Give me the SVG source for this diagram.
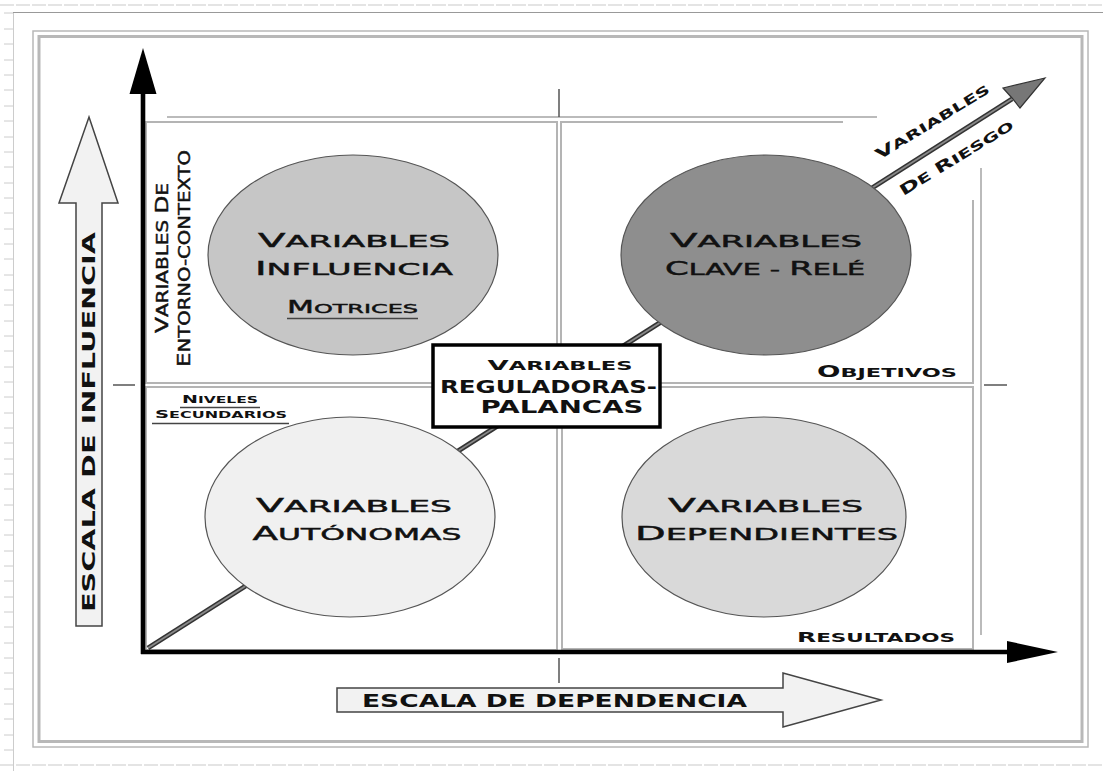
<svg xmlns="http://www.w3.org/2000/svg" width="1103" height="771" viewBox="0 0 1103 771">
<style>
.t{font-family:"DejaVu Sans","Liberation Sans",sans-serif;fill:#111;text-anchor:middle}
.b{font-weight:bold}
.m{stroke:#111;stroke-width:0.45}
.frame{fill:none;stroke:#b8b8b8}
.box{fill:none;stroke:#b4b4b4;stroke-width:2}
.tick{stroke:#555;stroke-width:1.5}
.ell{stroke:#555;stroke-width:1.2}
.ul{stroke:#444;stroke-width:1.3}
.big{fill:#f2f2f2;stroke:#444;stroke-width:1.5}
</style>
<rect width="1103" height="771" fill="#fff"/>
<g id="page">
<line x1="0" y1="5" x2="1103" y2="5" stroke="#dcdcdc" stroke-width="1.5" stroke-dasharray="14,2"/>
<line x1="0" y1="765" x2="1103" y2="765" stroke="#dcdcdc" stroke-width="1.5" stroke-dasharray="14,2"/>
<line x1="13" y1="12.5" x2="1103" y2="12.5" stroke="#999" stroke-width="1"/>
<line x1="13.5" y1="13" x2="13.5" y2="771" stroke="#ccc" stroke-width="1"/>
<path d="M4 13h9M4 29h9M4 44h9M4 60h9M4 75h9M4 90h9M4 106h9M4 121h9M4 137h9M4 152h9M4 167h9M4 183h9M4 198h9M4 213h9M4 229h9M4 244h9M4 259h9M4 275h9M4 290h9M4 305h9M4 321h9M4 336h9M4 351h9M4 367h9M4 382h9M4 397h9M4 413h9M4 428h9M4 443h9M4 459h9M4 474h9M4 489h9M4 505h9M4 520h9M4 535h9M4 551h9M4 566h9M4 581h9M4 597h9M4 612h9M4 627h9M4 643h9M4 658h9M4 673h9M4 689h9M4 704h9M4 719h9M4 735h9M4 750h9" stroke="#ccc" stroke-width="1"/>
<rect class="frame" x="33" y="31" width="1055" height="716" stroke-width="1.5"/>
<rect class="frame" x="39" y="36.5" width="1043" height="705" stroke-width="3" stroke="#c4c4c4"/>
</g>
<g id="quadrants">
<line x1="167" y1="117" x2="877" y2="117" stroke="#bbb" stroke-width="2"/>
<line x1="981" y1="168" x2="981" y2="635" stroke="#bbb" stroke-width="2"/>
<rect class="box" x="146" y="122" width="411" height="261"/>
<path class="box" d="M843 122H561V383H973V200"/>
<rect class="box" x="146" y="387" width="411" height="263"/>
<rect class="box" x="562" y="387" width="411" height="262"/>
<line class="tick" x1="559" y1="89" x2="559" y2="117"/>
<line class="tick" x1="559" y1="658" x2="559" y2="683"/>
<line class="tick" x1="113" y1="385" x2="135" y2="385"/>
<line class="tick" x1="984" y1="385" x2="1007" y2="385"/>
</g>
<g id="connectors">
<line x1="148" y1="648" x2="1012" y2="99" stroke="#333" stroke-width="5"/>
<line x1="148" y1="648" x2="1012" y2="99" stroke="#888" stroke-width="1.8"/>
<polygon points="1045,78 1003,88 1012,98 1020,108" fill="#777" stroke="#333" stroke-width="1.2"/>
<line x1="143" y1="90" x2="143" y2="654" stroke="#000" stroke-width="4.6"/>
<polygon points="143,48 129.5,94 156.5,94" fill="#000"/>
<line x1="141" y1="652" x2="1010" y2="652" stroke="#000" stroke-width="4.4"/>
<polygon points="1058,652 1007,641 1007,663" fill="#000"/>
</g>
<g id="escala-influencia">
<polygon class="big" points="89,117 118,203 102,203 102,626 76,626 76,203 59,203"/>
<text class="t b" transform="translate(95,422) rotate(-90)" font-size="17" textLength="380" lengthAdjust="spacingAndGlyphs">ESCALA DE INFLUENCIA</text>
</g>
<g id="escala-dependencia">
<polygon class="big" points="337,688 783,688 783,673 881,700 783,727 783,712 337,712"/>
<text class="t b" x="554.5" y="707" font-size="17" textLength="385" lengthAdjust="spacingAndGlyphs">ESCALA DE DEPENDENCIA</text>
</g>
<g id="node-influencia">
<ellipse class="ell" cx="353" cy="255" rx="145" ry="100" fill="#c6c6c6"/>
<text class="t m" x="354" y="247" font-size="16" textLength="192" lengthAdjust="spacingAndGlyphs"><tspan font-size="19">V</tspan>ARIABLES</text>
<text class="t m" x="354" y="275" font-size="16" textLength="198" lengthAdjust="spacingAndGlyphs"><tspan font-size="19">I</tspan>NFLUENCIA</text>
<text class="t m" x="352.5" y="313" font-size="13" textLength="131" lengthAdjust="spacingAndGlyphs"><tspan font-size="17">M</tspan>OTRICES</text>
<line class="ul" x1="287" y1="318.5" x2="418" y2="318.5"/>
</g>
<g id="node-clave">
<ellipse class="ell" cx="766" cy="255" rx="145" ry="100" fill="#8e8e8e"/>
<text class="t m" x="766" y="247" font-size="16" textLength="192" lengthAdjust="spacingAndGlyphs"><tspan font-size="19">V</tspan>ARIABLES</text>
<text class="t m" x="765" y="275" font-size="16" textLength="200" lengthAdjust="spacingAndGlyphs"><tspan font-size="19">C</tspan>LAVE - <tspan font-size="19">R</tspan>ELÉ</text>
</g>
<g id="node-autonomas">
<ellipse class="ell" cx="350" cy="517" rx="145" ry="100" fill="#f0f0f0"/>
<text class="t m" x="354" y="512" font-size="16" textLength="196" lengthAdjust="spacingAndGlyphs"><tspan font-size="19">V</tspan>ARIABLES</text>
<text class="t m" x="357" y="540" font-size="16" textLength="209" lengthAdjust="spacingAndGlyphs"><tspan font-size="19">A</tspan>UTÓNOMAS</text>
</g>
<g id="node-dependientes">
<ellipse class="ell" cx="764" cy="517" rx="142" ry="100" fill="#d9d9d9"/>
<text class="t m" x="765.5" y="512" font-size="16" textLength="195" lengthAdjust="spacingAndGlyphs"><tspan font-size="19">V</tspan>ARIABLES</text>
<text class="t m" x="766.5" y="540" font-size="16" textLength="263" lengthAdjust="spacingAndGlyphs"><tspan font-size="19">D</tspan>EPENDIENTES</text>
</g>
<g id="node-reguladoras">
<rect x="433" y="345" width="227" height="82" fill="#fff" stroke="#000" stroke-width="3.5"/>
<text class="t b" x="560" y="370" font-size="11.5" textLength="145" lengthAdjust="spacingAndGlyphs"><tspan font-size="14">V</tspan>ARIABLES</text>
<text class="t b" x="548.5" y="393" font-size="18" textLength="217" lengthAdjust="spacingAndGlyphs">REGULADORAS-</text>
<text class="t b" x="562" y="413" font-size="18" textLength="163" lengthAdjust="spacingAndGlyphs">PALANCAS</text>
</g>
<g id="label-entorno">
<text class="t m" transform="translate(168,258) rotate(-90)" font-size="15" textLength="150" lengthAdjust="spacingAndGlyphs"><tspan font-size="17.5">V</tspan>ARIABLES <tspan font-size="17.5">D</tspan>E</text>
<text class="t m" transform="translate(190,258.5) rotate(-90)" font-size="15" textLength="217" lengthAdjust="spacingAndGlyphs"><tspan font-size="17.5">E</tspan>NTORNO-CONTEXTO</text>
</g>
<g id="label-niveles">
<text class="t b" x="220" y="403" font-size="9" textLength="76" lengthAdjust="spacingAndGlyphs"><tspan font-size="11">N</tspan>IVELES</text>
<line class="ul" x1="180" y1="407.5" x2="260" y2="407.5"/>
<text class="t b" x="221" y="418" font-size="9" textLength="132" lengthAdjust="spacingAndGlyphs"><tspan font-size="11">S</tspan>ECUNDARIOS</text>
<line class="ul" x1="152" y1="423.5" x2="289" y2="423.5"/>
</g>
<g id="label-objetivos">
<text class="t b" x="887" y="377" font-size="13" textLength="140" lengthAdjust="spacingAndGlyphs"><tspan font-size="16">O</tspan>BJETIVOS</text>
</g>
<g id="label-resultados">
<text class="t b" x="876" y="642" font-size="12.5" textLength="158" lengthAdjust="spacingAndGlyphs"><tspan font-size="14.5">R</tspan>ESULTADOS</text>
</g>
<g id="label-riesgo">
<text class="t b" transform="translate(935,126) rotate(-31.5)" font-size="12.5" textLength="131" lengthAdjust="spacingAndGlyphs"><tspan font-size="15">V</tspan>ARIABLES</text>
<text class="t b" transform="translate(959,162) rotate(-31.5)" font-size="12.5" textLength="131" lengthAdjust="spacingAndGlyphs"><tspan font-size="15">D</tspan>E <tspan font-size="15">R</tspan>IESGO</text>
</g>
</svg>
